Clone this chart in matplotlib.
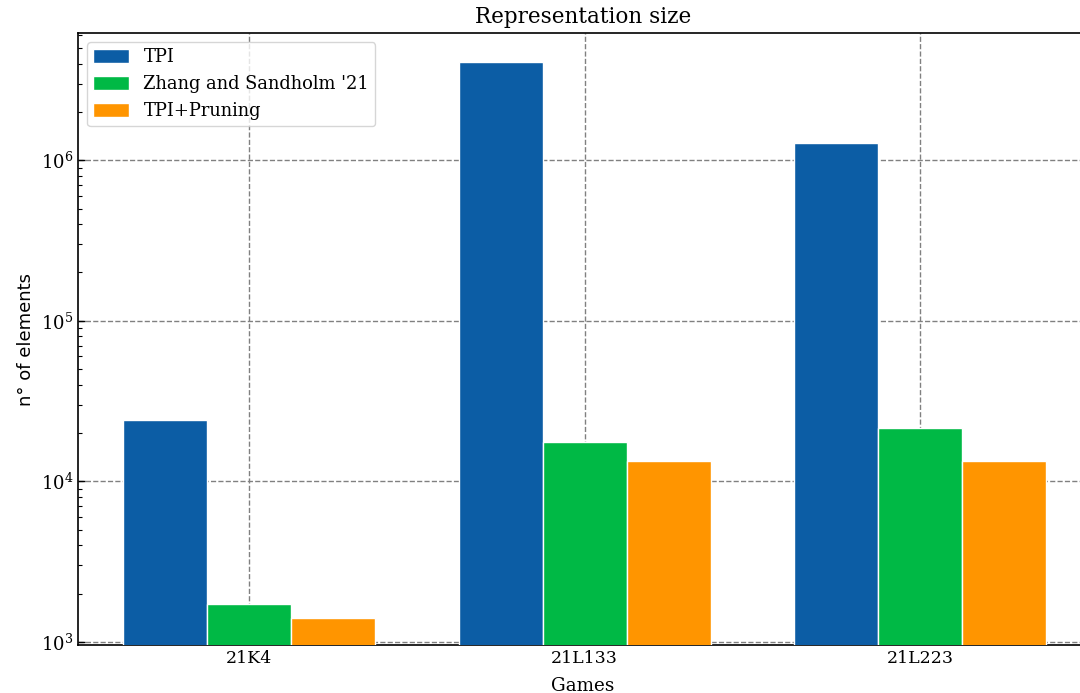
import numpy as np
import matplotlib
matplotlib.use("Agg")
import matplotlib.pyplot as plt

games = ["21K4", "21L133", "21L223"]
series_names = ["TPI", "Zhang and Sandholm '21", "TPI+Pruning"]
tpi = [24000, 4120000, 1275000]
zhang = [1725, 17500, 21500]
pruning = [1410, 13400, 13400]
colors = ["#0C5DA5", "#00B945", "#FF9500"]

plt.rcParams.update({
    "font.family": "DejaVu Serif",
    "font.size": 12,
    "mathtext.fontset": "dejavuserif",
    "xtick.direction": "in",
    "ytick.direction": "in",
    "axes.linewidth": 1.2,
})

fig = plt.figure(figsize=(10.8, 6.93), dpi=100)
ax = fig.add_axes([78 / 1080, 1 - 645 / 693, 1010 / 1080, (645 - 33) / 693])

x = np.arange(len(games))
width = 0.25
for i, (vals, name, c) in enumerate(zip([tpi, zhang, pruning], series_names, colors)):
    ax.bar(x + (i - 1) * width, vals, width, color=c, edgecolor="white",
           linewidth=1.0, label=name, zorder=3)

ax.set_yscale("log")
ax.set_ylim(958, 6.2e6)
ax.set_xlim(-0.51, 2.5)
ax.set_xticks(x)
ax.set_xticklabels(games)
ax.tick_params(axis="x", labelsize=12.5)
ax.tick_params(axis="y", labelsize=13)
ax.tick_params(axis="y", which="major", length=5, width=1, right=False)
ax.tick_params(axis="y", which="minor", length=3, width=0.8, right=False)
ax.tick_params(axis="x", which="both", length=0, top=False)
ax.grid(True, which="major", linestyle="--", color="gray", linewidth=1.0, zorder=0)
ax.set_axisbelow(True)

ax.set_title("Representation size", fontsize=15.5, pad=7)
ax.set_xlabel("Games", fontsize=13.2, labelpad=7)
ax.set_ylabel("n° of elements", family="DejaVu Sans", fontsize=13)
ax.legend(loc="upper left", fontsize=12.9, fancybox=True, framealpha=0.8,
          edgecolor="#cccccc", handlelength=2.0, handleheight=0.8,
          borderpad=0.35, labelspacing=0.5)

fig.savefig("out.png", dpi=100)
